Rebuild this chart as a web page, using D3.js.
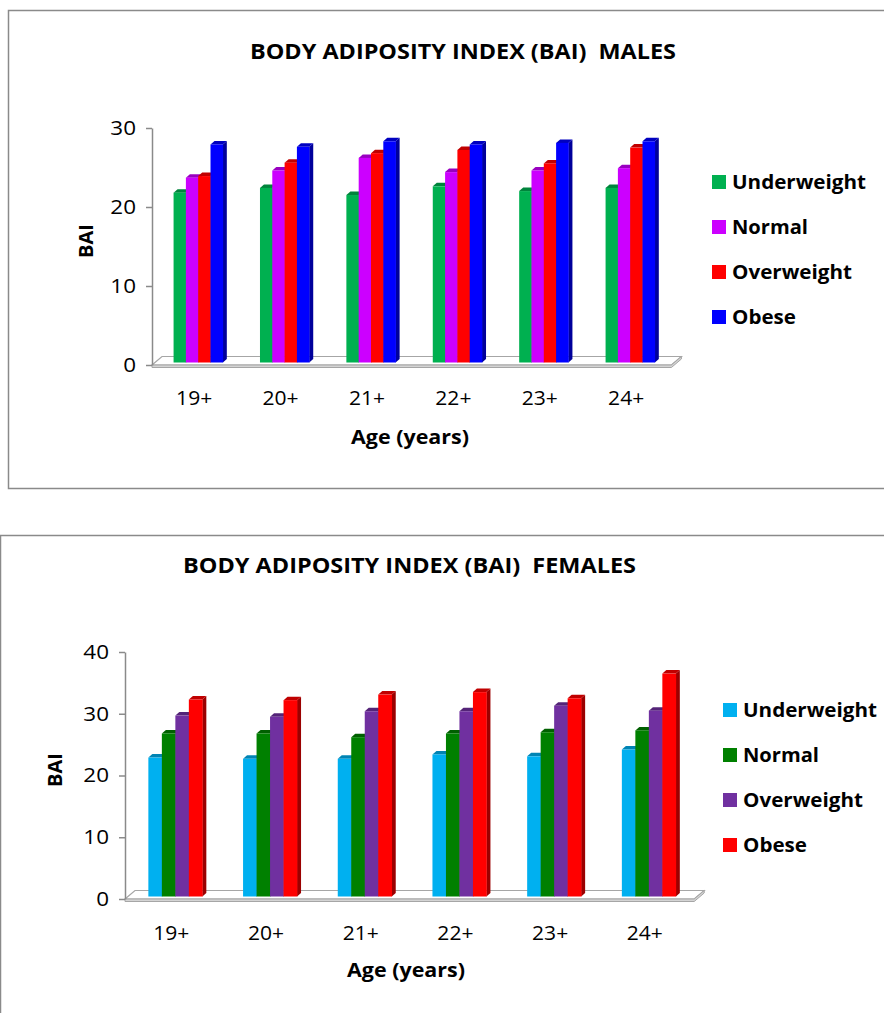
<!DOCTYPE html>
<html>
<head>
<meta charset="utf-8">
<script src="https://cdn.jsdelivr.net/npm/d3@7"></script>
<style>
  html, body { margin: 0; padding: 0; background: #ffffff; }
  svg { display: block; }
  text { white-space: pre; }
</style>
</head>
<body>
<svg id="chart" width="884" height="1013"></svg>
<script>
// ---- data ----
const ageGroups = ["19+", "20+", "21+", "22+", "23+", "24+"];
const bmiClasses = ["Underweight", "Normal", "Overweight", "Obese"];

const maleUnderweight = [21.5, 22.1, 21.2, 22.3, 21.7, 22.1];
const maleNormal      = [23.4, 24.3, 25.9, 24.1, 24.3, 24.6];
const maleOverweight  = [23.6, 25.3, 26.5, 26.9, 25.2, 27.2];
const maleObese       = [27.6, 27.3, 28.0, 27.6, 27.8, 28.0];

const femaleUnderweight = [22.5, 22.3, 22.3, 23.0, 22.7, 23.8];
const femaleNormal      = [26.4, 26.4, 25.8, 26.4, 26.6, 26.9];
const femaleOverweight  = [29.3, 29.1, 30.0, 30.0, 30.9, 30.1];
const femaleObese       = [31.9, 31.8, 32.7, 33.1, 32.1, 36.1];

const maleTicks = [0, 10, 20, 30];
const femaleTicks = [0, 10, 20, 30, 40];

const maleColors = ["#00B050", "#CC00FF", "#FF0000", "#0000FF"];
const femaleColors = ["#00B0F0", "#008000", "#7030A0", "#FF0000"];

// ---- drawing ----
const svg = d3.select("#chart");
const FONT = "'Open Sans', 'Noto Sans', sans-serif";

function stretch(sel, k) {
  sel.each(function () {
    const w = this.getComputedTextLength();
    d3.select(this).attr("textLength", w * k).attr("lengthAdjust", "spacingAndGlyphs");
  });
}
function fit(sel, width) {
  sel.attr("textLength", width).attr("lengthAdjust", "spacingAndGlyphs");
}

function drawPanel(o) {
  const g = svg.append("g");

  // outer chart border
  g.append("rect")
    .attr("x", o.frame[0]).attr("y", o.frame[1])
    .attr("width", o.frame[2]).attr("height", o.frame[3])
    .attr("fill", "none").attr("stroke", "#8a8a8a").attr("stroke-width", 1.5);

  // title
  g.append("text")
    .attr("x", o.titleX).attr("y", o.titleY).attr("dy", "0.35em")
    .attr("text-anchor", "middle")
    .style("font-family", FONT).style("font-weight", 700).style("font-size", "21px")
    .attr("fill", "#000")
    .text(o.title)
    .call(fit, o.titleWidth);

  const y = d3.scaleLinear().domain([0, o.maxVal]).range([o.yZero, o.yTop]);
  const step = o.step;
  const x0 = d3.scaleBand().domain(ageGroups)
    .range([o.axisX + 3, o.axisX + 3 + step * ageGroups.length])
    .paddingInner(0.43).paddingOuter(0.215);
  const x1 = d3.scaleBand().domain(bmiClasses).range([0, x0.bandwidth()]);
  const colour = d3.scaleOrdinal().domain(bmiClasses).range(o.colors);

  // 3D floor
  const fdx = 10, fdy = -8.5;
  const fx0 = o.axisX, fx1 = x0.range()[1] - 2, fy = o.yZero;
  g.append("path")
    .attr("d", `M${fx0},${fy} L${fx1},${fy} L${fx1 + fdx},${fy + fdy} L${fx0 + fdx},${fy + fdy} Z`)
    .attr("fill", "#ffffff").attr("stroke", "#a6a6a6").attr("stroke-width", 1.2);
  g.append("path")
    .attr("d", `M${fx0},${fy} L${fx1},${fy} L${fx1 + fdx},${fy + fdy} L${fx1 + fdx},${fy + fdy + 2.5} L${fx1},${fy + 2.5} L${fx0},${fy + 2.5} Z`)
    .attr("fill", "#d4d4d4").attr("stroke", "#a6a6a6").attr("stroke-width", 1);

  // value axis
  const axis = d3.axisLeft(y).tickValues(o.ticks).tickSize(6).tickSizeOuter(0).tickPadding(10);
  const ax = g.append("g").attr("transform", `translate(${o.axisX},0)`).call(axis);
  ax.select(".domain").attr("stroke", "#8a8a8a").attr("stroke-width", 1.5);
  ax.selectAll(".tick line").attr("stroke", "#8a8a8a").attr("stroke-width", 1.5);
  ax.selectAll(".tick text")
    .style("font-family", FONT).style("font-size", "19.5px").attr("fill", "#000")
    .call(stretch, 1.15);

  // bars
  const bdx = 4, bdy = -3.5, lift = o.lift;
  const series = o.series;
  ageGroups.forEach((age, i) => {
    const gx = x0(age);
    bmiClasses.forEach((cls, j) => {
      const v = series[j][i];
      const bx = gx + x1(cls), bw = x1.bandwidth();
      const top = y(v) - lift, bot = y(0) - lift;
      const c = colour(cls);
      // side face
      g.append("path")
        .attr("d", `M${bx + bw},${top} L${bx + bw + bdx},${top + bdy} L${bx + bw + bdx},${bot + bdy} L${bx + bw},${bot} Z`)
        .attr("fill", d3.color(c).darker(1.4));
      // top face
      g.append("path")
        .attr("d", `M${bx},${top} L${bx + bdx},${top + bdy} L${bx + bw + bdx},${top + bdy} L${bx + bw},${top} Z`)
        .attr("fill", d3.color(c).darker(0.8));
      // front face
      g.append("rect")
        .attr("x", bx).attr("y", top).attr("width", bw + 0.3).attr("height", bot - top)
        .attr("fill", c);
    });
  });

  // category labels
  g.selectAll(".cat").data(ageGroups).enter().append("text")
    .attr("x", d => x0(d) + x0.bandwidth() / 2 - 4)
    .attr("y", o.catY).attr("dy", "0.35em")
    .attr("text-anchor", "middle")
    .style("font-family", FONT).style("font-size", "19.5px").attr("fill", "#000")
    .text(d => d)
    .call(stretch, 1.08);

  // axis titles
  g.append("text")
    .attr("x", o.ageX).attr("y", o.ageY).attr("dy", "0.35em")
    .attr("text-anchor", "middle")
    .style("font-family", FONT).style("font-weight", 700).style("font-size", "20px")
    .attr("fill", "#000")
    .text("Age (years)")
    .call(fit, 118);
  g.append("text")
    .attr("transform", `translate(${o.baiX},${o.baiY}) rotate(-90)`)
    .attr("dy", "0.35em")
    .attr("text-anchor", "middle")
    .style("font-family", FONT).style("font-weight", 700).style("font-size", "20px")
    .attr("fill", "#000")
    .text("BAI")
    .call(fit, 34);

  // legend
  const lg = g.append("g");
  bmiClasses.forEach((cls, j) => {
    const cy = o.legendY + j * o.legendGap;
    lg.append("rect")
      .attr("x", o.legendX).attr("y", cy - 7).attr("width", 14).attr("height", 14)
      .attr("fill", colour(cls));
    lg.append("text")
      .attr("x", o.legendX + 20).attr("y", cy).attr("dy", "0.35em")
      .style("font-family", FONT).style("font-weight", 700).style("font-size", "20px")
      .attr("fill", "#000")
      .text(cls)
      .call(fit, o.legendWidths[j]);
  });
}

drawPanel({
  title: "BODY ADIPOSITY INDEX (BAI)  MALES",
  titleX: 463, titleY: 52, titleWidth: 426,
  frame: [8.5, 10.5, 900, 478],
  axisX: 152, yZero: 365, yTop: 128, maxVal: 30, ticks: maleTicks,
  step: 86.4, lift: 2.5,
  colors: maleColors,
  series: [maleUnderweight, maleNormal, maleOverweight, maleObese],
  catY: 398, ageX: 410, ageY: 437, baiX: 86, baiY: 241,
  legendX: 712, legendY: 182, legendGap: 45,
  legendWidths: [134, 76, 120, 64]
});

drawPanel({
  title: "BODY ADIPOSITY INDEX (BAI)  FEMALES",
  titleX: 409.5, titleY: 566, titleWidth: 453,
  frame: [0.5, 535.5, 900, 600],
  axisX: 125, yZero: 899, yTop: 652, maxVal: 40, ticks: femaleTicks,
  step: 94.7, lift: 2.5,
  colors: femaleColors,
  series: [femaleUnderweight, femaleNormal, femaleOverweight, femaleObese],
  catY: 933, ageX: 406, ageY: 970, baiX: 55, baiY: 770,
  legendX: 723, legendY: 710, legendGap: 45,
  legendWidths: [134, 76, 120, 64]
});
</script>
</body>
</html>
